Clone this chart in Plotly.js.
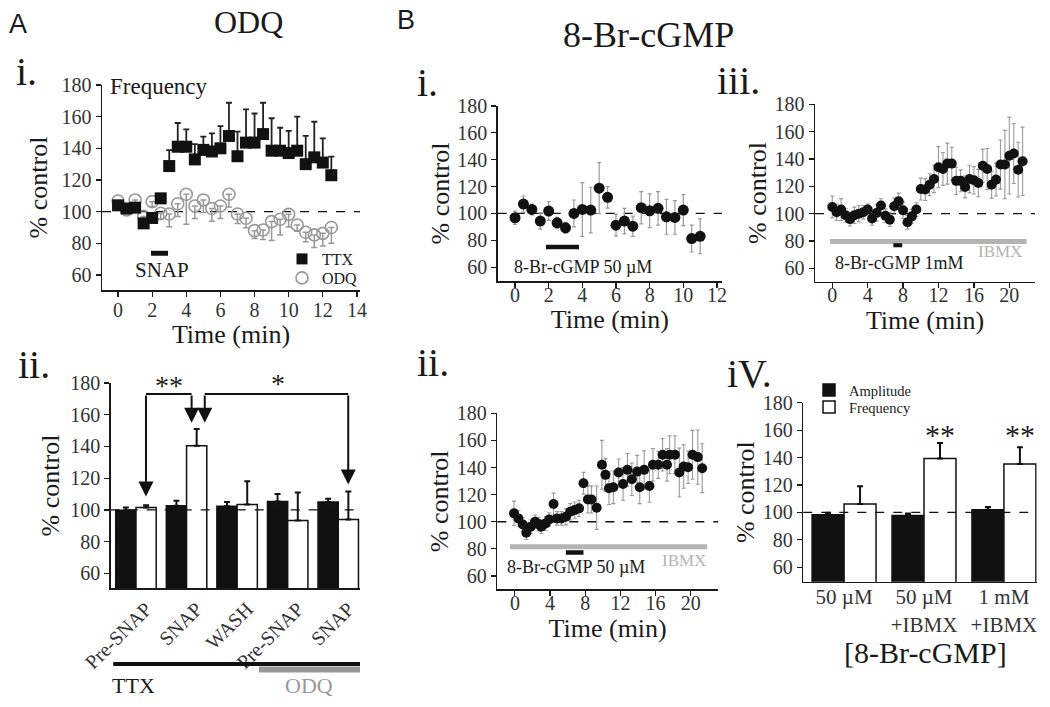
<!DOCTYPE html>
<html><head><meta charset="utf-8">
<script src="https://cdn.plot.ly/plotly-3.0.1.min.js"></script>
<style>html,body{margin:0;padding:0;background:#fff}#chart{width:1050px;height:707px}</style>
</head><body><div id="chart"></div>
<script>
// ---------- A.i  ODQ time course ----------
const aTime   = [0,0.5,1,1.5,2,2.5,3,3.5,4,4.5,5,5.5,6,6.5,7,7.5,8,8.5,9,9.5,10,10.5,11,11.5,12,12.5];
const ttxFreq = [104,102,102.5,92.6,96,108.4,128.8,141,141,133,139,138,140,147.8,135,143.6,143.6,149,138.5,138.5,137,138.5,130,134.3,131,123];
const ttxErr  = [2,2,2,2,2,2,10,15,11,9.7,8.4,11.5,14,21,15.5,21,18.4,19.8,20.5,14.5,14,21.5,17.8,22.5,15.3,11.7];
const odqFreq = [106.7,101,107.4,97,106.3,99,98.5,105,111,103.6,107.4,102,103.6,111,98.5,95.8,88,88.4,93.7,95.2,98.3,91.6,87,85.3,86.3,90];
const odqErr  = [3,3,3,3,3,4,8,8,19,8,8,8,8,8,6,6,5,6,12,10,8,4,6,8,8,10];
const snapPeriod = [1.93, 2.93];

// ---------- A.ii  bar summary ----------
const aPos       = [0,1,2,3,4];
const aLabels    = ['Pre-SNAP','SNAP','WASH','Pre-SNAP','SNAP'];
const aBlack     = [99.8,102.6,102.3,105.3,105];
const aBlackErr  = [1.7,3.2,2.7,4.7,2];
const aWhite     = [101.6,140.4,103.4,93.3,94];
const aWhiteErr  = [1.4,10.6,14.6,17.7,17.6];

// ---------- B.i  8-Br-cGMP 50 uM ----------
const b1Time = [0,0.5,1,1.5,2,2.5,3,3.5,4,4.5,5,5.5,6,6.5,7,7.5,8,8.5,9,9.5,10,10.5,11];
const b1Freq = [96.8,107,103,94.3,101.8,93,89.3,100,103,102.5,118.8,112,91.3,94.3,90.5,104.3,102,103.8,97.5,97,102.5,81.3,83];
const b1Err  = [5,6,4,6,7,4,4,10,20,17,19,8,8,9.5,7.5,12,12.5,12.5,13,12.5,11.5,10,13];
const b1Drug = [1.84, 3.8];

// ---------- B.iii  8-Br-cGMP 1 mM + IBMX ----------
const b3Time = [0,0.5,1,1.5,2,2.5,3,3.5,4,4.5,5,5.5,6,6.5,7,7.5,8,8.5,9,9.5,10,10.5,11,11.5,12,12.5,13,13.5,14,14.5,15,15.5,16,16.5,17,17.5,18,18.5,19,19.5,20,20.5,21,21.5];
const b3Freq = [104.9,101,103,98.8,96,98.8,100,101,103,96.5,100.5,105.9,98.5,95.6,105.4,109,102.4,93.7,98,103,118,117.6,121.2,125.4,134,132.7,136.6,136.6,124,124,119.5,125.4,124.4,122.4,135,132.7,121.2,124.9,135.9,135.9,142.4,144,132.2,138.3];
const b3Err  = [8,6,8,5,5,6,6,5,4,5,6,5,5,5,6,6,6,5,5,5,8,8,8,10,15,12,15,12,10,8,8,10,10,10,12,15,10,12,18,25,28,22,20,25];
const b3Ibmx = [-0.26, 21.95];
const b3Drug = [6.9, 7.9];

// ---------- B.ii  8-Br-cGMP 50 uM + IBMX ----------
const b2Time = [-0.1,0.4,0.9,1.3,1.8,2.3,2.7,3.0,3.5,3.9,4.4,4.8,5.3,5.8,6.3,6.8,7.3,7.8,8.3,8.7,9.3,9.9,10.3,10.7,11.2,11.8,12.3,12.8,13.3,13.9,14.2,14.7,15.3,15.7,16.3,16.8,17.3,17.6,18.2,18.7,19.2,19.7,20.2,20.8,21.3];
const b2Freq = [106.2,102.5,98,91.9,96.3,100,98.3,96.3,98.8,101.7,113.1,102.5,102.5,103.7,107.4,108.6,109.9,128.4,116.5,116.5,110.4,142,134.6,124.7,125.4,136.3,127.9,138.3,131.4,137,125.4,138.3,126.4,142,142,149.4,142,149.4,149.4,136.3,140.7,140.2,149.4,147.7,139.5];
const b2Err  = [9,6,5,5,5,5,5,5,5,5,8,5,5,6,6,6,6,8,10,10,16,18,12,12,12,10,12,12,12,12,12,14,12,12,10,12,12,14,14,18,16,12,18,20,18];
const b2Ibmx = [-0.57, 21.87];
const b2Drug = [5.8, 7.8];

// ---------- B.iv  summary ----------
const b4Pos     = [0,1,2];
const b4Labels  = ['50 µM','50 µM<br>+IBMX','1 mM<br>+IBMX'];
const b4Amp     = [98.3,97.8,102];
const b4AmpErr  = [1.5,1.5,2];
const b4Freq    = [106.1,139.3,135.4];
const b4FreqErr = [13,11.4,12.2];

const yTicks = [60,80,100,120,140,160,180];

// ---------- helpers ----------
const W = 1050, H = 707;
const px = v => v / W, py = v => 1 - v / H;
const SERIF = '"Liberation Serif", "Times New Roman", serif';
const SANS = '"Liberation Sans", Arial, sans-serif';
const INK = '#1a1a1a', GREY = '#999999', LGREY = '#b4b4b4';

function axisBase(extra) {
  return Object.assign({
    showline: true, linecolor: INK, linewidth: 1.5,
    ticks: 'outside', ticklen: 5, tickwidth: 1.2, tickcolor: INK,
    showgrid: false, zeroline: false, fixedrange: true,
    tickfont: { family: SERIF, size: 20, color: '#333' }
  }, extra);
}
function yAx(d0, d1, range, anchor, so) {
  return axisBase({ domain: [py(d0), py(d1)], range: range, anchor: anchor, tickvals: yTicks,
    title: { text: '% control', font: { family: SERIF, size: 26, color: INK }, standoff: so } });
}
function xTime(d0, d1, range, anchor, tv, lso, so) {
  return axisBase({ domain: [px(d0), px(d1)], range: range, anchor: anchor, tickvals: tv, ticklabelstandoff: lso,
    title: { text: 'Time (min)', font: { family: SERIF, size: 26, color: INK }, standoff: so } });
}

const traces = [
  // A.i data
  { type: 'scatter', mode: 'markers', x: aTime, y: odqFreq, name: 'ODQ', xaxis: 'x', yaxis: 'y', showlegend: false,
    marker: { symbol: 'circle-open', size: 12, color: GREY, line: { width: 1.6, color: GREY } },
    error_y: { type: 'data', symmetric: false, array: [], arrayminus: odqErr, color: GREY, thickness: 1.5, width: 3 } },
  { type: 'scatter', mode: 'markers', x: aTime, y: ttxFreq, name: 'TTX', xaxis: 'x', yaxis: 'y', showlegend: false,
    marker: { symbol: 'square', size: 12, color: '#111' },
    error_y: { type: 'data', symmetric: false, array: ttxErr, arrayminus: [], color: '#222', thickness: 1.8, width: 3 } },
  // A.i legend entries (no data of their own)
  { type: 'scatter', mode: 'markers', x: [null], y: [null], name: 'TTX', xaxis: 'x', yaxis: 'y', legend: 'legend',
    marker: { symbol: 'square', size: 11, color: '#111' } },
  { type: 'scatter', mode: 'markers', x: [null], y: [null], name: 'ODQ', xaxis: 'x', yaxis: 'y', legend: 'legend3',
    marker: { symbol: 'circle-open', size: 12, color: GREY, line: { width: 1.6, color: GREY } } },
  // A.ii
  { type: 'bar', x: aPos, y: aBlack, xaxis: 'x2', yaxis: 'y2', showlegend: false,
    marker: { color: '#111', line: { color: '#111', width: 1.5 } },
    error_y: { type: 'data', symmetric: false, array: aBlackErr, arrayminus: [], color: '#111', thickness: 2, width: 3 } },
  { type: 'bar', x: aPos, y: aWhite, xaxis: 'x2', yaxis: 'y2', showlegend: false,
    marker: { color: '#fff', line: { color: '#111', width: 1.5 } },
    error_y: { type: 'data', symmetric: false, array: aWhiteErr, arrayminus: [], color: '#111', thickness: 2, width: 3 } },
  // B.i
  { type: 'scatter', mode: 'markers', x: b1Time, y: b1Freq, xaxis: 'x3', yaxis: 'y3', showlegend: false,
    marker: { symbol: 'circle', size: 11, color: '#111' },
    error_y: { type: 'data', array: b1Err, color: GREY, thickness: 1.2, width: 2 } },
  // B.iii
  { type: 'scatter', mode: 'markers', x: b3Time, y: b3Freq, xaxis: 'x4', yaxis: 'y4', showlegend: false,
    marker: { symbol: 'circle', size: 10, color: '#111' },
    error_y: { type: 'data', array: b3Err, color: GREY, thickness: 1.1, width: 2 } },
  // B.ii
  { type: 'scatter', mode: 'markers', x: b2Time, y: b2Freq, xaxis: 'x5', yaxis: 'y5', showlegend: false,
    marker: { symbol: 'circle', size: 10, color: '#111' },
    error_y: { type: 'data', array: b2Err, color: GREY, thickness: 1.1, width: 2 } },
  // B.iv
  { type: 'bar', x: b4Pos, y: b4Amp, name: 'Amplitude', xaxis: 'x6', yaxis: 'y6', legend: 'legend2',
    marker: { color: '#111', line: { color: '#111', width: 1.5 } },
    error_y: { type: 'data', symmetric: false, array: b4AmpErr, arrayminus: [], color: '#111', thickness: 2, width: 3 } },
  { type: 'bar', x: b4Pos, y: b4Freq, name: 'Frequency', xaxis: 'x6', yaxis: 'y6', legend: 'legend4',
    marker: { color: '#fff', line: { color: '#111', width: 1.5 } },
    error_y: { type: 'data', symmetric: false, array: b4FreqErr, arrayminus: [], color: '#111', thickness: 2, width: 3 } }
];

function dash100(xr, yr, layer) {
  return { type: 'line', xref: xr + ' domain', yref: yr, x0: 0, x1: 1, y0: 100, y1: 100,
    line: { color: '#111', width: 1.3, dash: 'dash' }, layer: layer };
}
function hbar(xr, yr, span, y, color, w) {
  return { type: 'line', xref: xr, yref: yr, x0: span[0], x1: span[1], y0: y, y1: y,
    line: { color: color, width: w }, layer: 'above' };
}

const shapes = [
  dash100('x', 'y', 'below'), dash100('x2', 'y2', 'above'), dash100('x3', 'y3', 'below'),
  dash100('x4', 'y4', 'below'), dash100('x5', 'y5', 'below'), dash100('x6', 'y6', 'above'),
  hbar('x', 'y', snapPeriod, 73.7, '#111', 5),
  hbar('x3', 'y3', b1Drug, 75, '#111', 4.5),
  hbar('x4', 'y4', b3Ibmx, 79.7, LGREY, 5),
  hbar('x4', 'y4', b3Drug, 76.8, '#111', 4),
  hbar('x5', 'y5', b2Ibmx, 81.5, LGREY, 5),
  hbar('x5', 'y5', b2Drug, 77.4, '#111', 4.5),
  // significance brackets (A.ii)
  hbar('x2', 'y2', [0.1975, 1.10], 173, '#111', 2),
  hbar('x2', 'y2', [1.36, 4.1975], 173, '#111', 2),
  // TTX / ODQ condition bars below A.ii
  { type: 'line', xref: 'x2', yref: 'paper', x0: 2.43, x1: 4.43, y0: py(669.5), y1: py(669.5), line: { color: '#999', width: 6 } },
  { type: 'line', xref: 'x2', yref: 'paper', x0: -0.45, x1: 4.43, y0: py(664), y1: py(664), line: { color: '#111', width: 4 } }
];

function arrow(x, yTail, yHead) {
  return { xref: 'x2', yref: 'y2', axref: 'x2', ayref: 'y2', x: x, y: yHead, ax: x, ay: yTail,
    text: '', showarrow: true, arrowhead: 2, arrowsize: 1.5, arrowwidth: 2, arrowcolor: '#111', standoff: 0 };
}
function txt(xr, yr, x, y, text, size, opts) {
  return Object.assign({ xref: xr, yref: yr, x: x, y: y, text: text, showarrow: false,
    font: { family: SERIF, size: size, color: INK }, xanchor: 'left', yanchor: 'middle' }, opts || {});
}
const P = 'paper';
const annotations = [
  arrow(0.1975, 173, 108.4), arrow(1.10, 173, 155), arrow(1.36, 173, 155), arrow(4.1975, 173, 116),
  txt('x2', 'y2', 0.65, 178.3, '**', 28, { xanchor: 'center' }),
  txt('x2', 'y2', 2.8, 180, '*', 28, { xanchor: 'center' }),
  txt('x6', 'y6', 1.2, 157, '**', 30, { xanchor: 'center' }),
  txt('x6', 'y6', 2.2, 157, '**', 30, { xanchor: 'center' }),
  txt('x', 'y', -0.59, 178.8, 'Frequency', 23),
  txt('x3', 'y3', -0.06, 181.9, 'Frequency', 23),
  txt('x4', 'y4', 0.08, 180.5, 'Frequency', 23),
  txt('x5', 'y5', -0.34, 182, 'Frequency', 23),
  txt('x', 'y', 2.56, 62.9, 'SNAP', 21, { xanchor: 'center' }),
  txt('x3', 'y3', -0.18, 60.5, '8-Br-cGMP 50 µM', 18),
  txt('x4', 'y4', 0.08, 63.8, '8-Br-cGMP 1mM', 18),
  txt('x4', 'y4', 21.7, 72, 'IBMX', 17, { xanchor: 'right', font: { family: SERIF, size: 17, color: LGREY } }),
  txt('x5', 'y5', -1.14, 66.6, '8-Br-cGMP 50 µM', 18),
  txt('x5', 'y5', 22, 71.7, 'IBMX', 17, { xanchor: 'right', font: { family: SERIF, size: 17, color: LGREY } }),
  txt(P, P, px(925), py(652), '[8-Br-cGMP]', 30, { xanchor: 'center' }),
  // panel headings
  txt(P, P, px(7), py(24), 'A', 27, { font: { family: SANS, size: 27, color: INK } }),
  txt(P, P, px(248), py(22), 'ODQ', 32, { xanchor: 'center' }),
  txt(P, P, px(395), py(20), 'B', 27, { font: { family: SANS, size: 27, color: INK } }),
  txt(P, P, px(648), py(35), '8-Br-cGMP', 36, { xanchor: 'center' }),
  txt(P, P, px(14), py(72), 'i.', 40),
  txt(P, P, px(16), py(365), 'ii.', 40),
  txt(P, P, px(415), py(82), 'i.', 40),
  txt(P, P, px(415), py(362), 'ii.', 40),
  txt(P, P, px(715), py(80), 'iii.', 40),
  txt(P, P, px(725), py(373), 'iV.', 40),
  txt(P, P, px(110), py(685), 'TTX', 22),
  txt(P, P, px(309), py(685), 'ODQ', 22, { xanchor: 'center', font: { family: SERIF, size: 22, color: '#999' } })
];

function leg(x, yTop, size) {
  return { x: px(x), y: py(yTop), xanchor: 'left', yanchor: 'top', bgcolor: 'rgba(0,0,0,0)',
    font: { family: SERIF, size: size, color: INK }, itemwidth: 30, tracegroupgap: 0 };
}

const layout = {
  width: W, height: H, margin: { l: 0, r: 0, t: 0, b: 0 },
  paper_bgcolor: '#fff', plot_bgcolor: 'rgba(0,0,0,0)',
  font: { family: SERIF, color: INK },
  barmode: 'group', bargap: 0.2, bargroupgap: 0,
  xaxis: xTime(102, 360, [-0.94, 14.18], 'y', [0,2,4,6,8,10,12,14], -4, 1),
  yaxis: yAx(290, 85, [50.5, 180], 'x', 6),
  xaxis2: axisBase({ domain: [px(110.7), px(360)], range: [-0.5, 4.43], anchor: 'y2', tickvals: aPos, ticktext: aLabels,
    ticks: '', tickangle: -45, ticklabelshift: 10, tickfont: { family: SERIF, size: 20, color: '#333' } }),
  yaxis2: yAx(588, 383, [50.8, 180], 'x2', 3),
  xaxis3: xTime(497.7, 722, [-1.03, 12.3], 'y3', [0,2,4,6,8,10,12], -10, 2),
  yaxis3: yAx(281, 106, [49.7, 180], 'x3', 0),
  xaxis4: xTime(815, 1035, [-1.95, 22.9], 'y4', [0,4,8,12,16,20], -10, 2),
  yaxis4: yAx(281.7, 104.3, [50.2, 180], 'x4', 0),
  xaxis5: xTime(497.3, 718, [-2.0, 23.1], 'y5', [0,4,8,12,16,20], -10, 2),
  yaxis5: yAx(589.3, 413.3, [50.2, 180], 'x5', 0),
  xaxis6: axisBase({ domain: [px(803.3), px(1036.7)], range: [-0.51, 2.41], anchor: 'y6', tickvals: b4Pos, ticktext: b4Labels,
    ticks: '', ticklabelstandoff: -4, tickfont: { family: SERIF, size: 21, color: '#333' } }),
  yaxis6: yAx(581.7, 402.7, [49.5, 180], 'x6', 0),
  legend: leg(282, 242, 16),
  legend3: leg(282, 261, 16),
  legend2: leg(809, 374, 14.5),
  legend4: leg(809, 391, 14.5),
  shapes: shapes,
  annotations: annotations
};

Plotly.newPlot('chart', traces, layout, { staticPlot: true, displayModeBar: false });
</script></body></html>
